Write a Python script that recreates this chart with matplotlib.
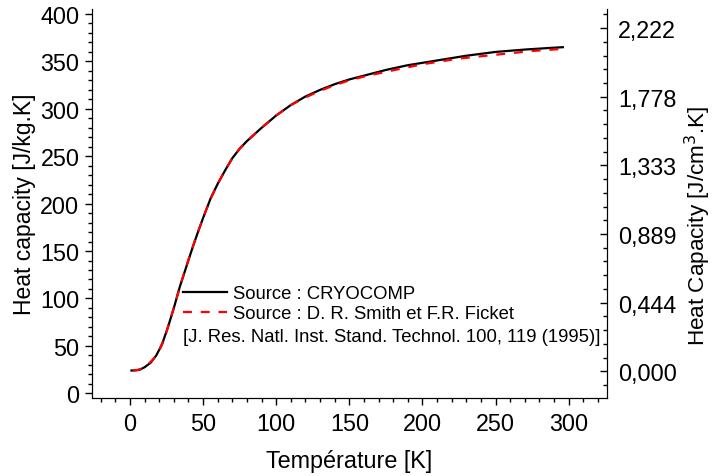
import matplotlib
matplotlib.use("Agg")
import matplotlib.pyplot as plt
from matplotlib.ticker import MultipleLocator, FixedLocator

plt.rcParams['font.family'] = ['Liberation Sans', 'DejaVu Sans']

# CRYOCOMP series
T_cryo = [1, 4, 7, 10, 14, 18, 22, 26, 30, 34, 38, 42, 46, 50, 55, 60, 65, 70,
          75, 80, 90, 100, 110, 120, 130, 140, 150, 160, 175, 190, 210, 230,
          250, 270, 285, 296]
cp_cryo = [24, 24.2, 25, 27.5, 32, 40, 52, 70, 90, 112, 131, 150, 168, 185,
           205, 221, 235, 248, 258, 266, 280, 293, 304, 313, 320, 326, 331,
           335, 341, 346, 351, 356, 360, 362.5, 364, 365]

# Smith & Fickett series
T_nist = [2, 5, 8, 12, 16, 20, 24, 28, 32, 36, 40, 45, 50, 55, 60, 65, 70, 75,
          80, 90, 100, 110, 120, 130, 140, 150, 160, 175, 200, 225, 250, 275,
          294]
cp_nist = [24, 24.5, 26, 30, 36, 45, 60, 80, 101, 122, 141, 164, 185, 205,
           221, 235, 248, 258, 266, 280, 293, 304, 312, 319, 325, 330, 334,
           339, 347, 353, 357, 361, 363]

right_labels = ['0,000', '0,444', '0,889', '1,333', '1,778', '2,222']

fig = plt.figure(figsize=(7.13, 4.77), dpi=100)
ax = fig.add_axes([0.129, 0.1635, 0.722, 0.815])

l1, = ax.plot(T_cryo, cp_cryo, color='black', lw=1.6, label='Source : CRYOCOMP')
l2, = ax.plot(T_nist, cp_nist, color='red', lw=1.6, dashes=(4, 4),
              label='Source : D. R. Smith et F.R. Ficket')

ax.set_xlim(-26, 326)
ax.set_ylim(-5, 405)
ax.xaxis.set_major_locator(MultipleLocator(50))
ax.xaxis.set_minor_locator(MultipleLocator(10))
ax.yaxis.set_major_locator(MultipleLocator(50))
ax.yaxis.set_minor_locator(MultipleLocator(10))
ax.spines['top'].set_visible(False)
ax.tick_params(which='major', direction='out', length=5, width=1, labelsize=16.8)
ax.tick_params(axis='y', which='major', pad=4)
ax.tick_params(axis='x', which='major', pad=5)
ax.tick_params(which='minor', direction='out', length=3, width=1)
ax.tick_params(axis='x', which='both', top=False)
ax.set_xlabel('Température [K]', fontsize=16.8, labelpad=10)
ax.set_ylabel('Heat capacity [J/kg.K]', fontsize=16.5, labelpad=3)

# right axis: linear conversion
off, scale = 23.2, 162.9
ax2 = ax.twinx()
ax2.set_ylim((-5 - off) / scale, (405 - off) / scale)
ax2.yaxis.set_major_locator(FixedLocator([k * 2.222 / 5 for k in range(6)]))
ax2.yaxis.set_minor_locator(FixedLocator([k * 2.222 / 25 for k in range(-1, 27)]))
ax2.set_yticklabels(right_labels)
ax2.spines['top'].set_visible(False)
ax2.tick_params(which='major', direction='in', length=5, width=1, labelsize=16.8, pad=8)
ax2.tick_params(which='minor', direction='in', length=3, width=1)
ax2.set_ylabel('Heat Capacity [J/cm$^3$.K]', fontsize=16.2)
ax2.yaxis.set_label_coords(1.148, 0.445)

leg = ax.legend(handles=[l1, l2], loc='upper left', bbox_to_anchor=(0.177, 0.29),
                frameon=False, fontsize=13.3, handlelength=2.4, handletextpad=0.3,
                borderaxespad=0, labelspacing=0.15, borderpad=0)
ax.text(0.177, 0.159, '[J. Res. Natl. Inst. Stand. Technol. 100, 119 (1995)]',
        transform=ax.transAxes, fontsize=13.3, va='center', ha='left')

fig.savefig('out.png', dpi=100)
